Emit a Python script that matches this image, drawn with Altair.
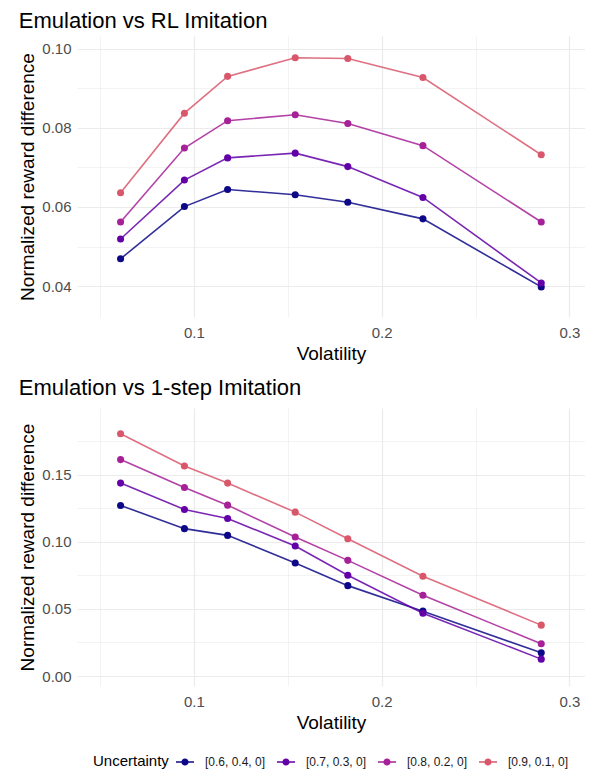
import altair as alt
import pandas as pd

# ---- data ----
volatility = [0.061, 0.095, 0.118, 0.154, 0.182, 0.222, 0.285]
uncertainty_levels = ["[0.6, 0.4, 0]", "[0.7, 0.3, 0]", "[0.8, 0.2, 0]", "[0.9, 0.1, 0]"]

rl_u06 = [0.0469, 0.0601, 0.0644, 0.0631, 0.0612, 0.0570, 0.0398]
rl_u07 = [0.0519, 0.0668, 0.0724, 0.0736, 0.0702, 0.0624, 0.0408]
rl_u08 = [0.0562, 0.0749, 0.0818, 0.0833, 0.0811, 0.0755, 0.0562]
rl_u09 = [0.0636, 0.0837, 0.0930, 0.0977, 0.0975, 0.0927, 0.0732]

os_u06 = [0.1270, 0.1097, 0.1047, 0.0842, 0.0673, 0.0483, 0.0173]
os_u07 = [0.1436, 0.1240, 0.1173, 0.0968, 0.0750, 0.0468, 0.0126]
os_u08 = [0.1611, 0.1403, 0.1272, 0.1035, 0.0861, 0.0601, 0.0240]
os_u09 = [0.1804, 0.1564, 0.1436, 0.1220, 0.1022, 0.0743, 0.0379]

colors = ["#0D0887", "#6300A7", "#A62098", "#D8576B"]

FONT = "Liberation Sans"


def make_df(series):
    rows = []
    for lvl, vals in zip(uncertainty_levels, series):
        for x, y in zip(volatility, vals):
            rows.append({"Volatility": x, "Uncertainty": lvl, "Value": y})
    return pd.DataFrame(rows)


df_rl = make_df([rl_u06, rl_u07, rl_u08, rl_u09])
df_os = make_df([os_u06, os_u07, os_u08, os_u09])

legend_symbol = (
    "M-1,-0.09L1,-0.09L1,0.09L-1,0.09Z "
    "M-0.4,0A0.4,0.4 0 1,1 0.4,0A0.4,0.4 0 1,1 -0.4,0Z"
)

color_scale = alt.Scale(domain=uncertainty_levels, range=colors)
# lines: same colours; domain taken from the data (same sorted order)
stroke_scale = alt.Scale(range=colors)

legend = alt.Legend(
    orient="none",
    legendX=16,
    legendY=717,
    direction="horizontal",
    titleOrient="left",
    title="Uncertainty",
    symbolType=legend_symbol,
    symbolSize=324,
    symbolStrokeWidth=0,
    symbolOpacity=1,
    labelFontSize=12,
    labelFont=FONT,
    labelColor="#1A1A1A",
    titleFontSize=15,
    titleFont=FONT,
    titleFontWeight="normal",
    titleColor="#000000",
    titlePadding=7,
    labelOffset=11,
    columnPadding=11,
)

x_axis = alt.Axis(
    values=[0.05, 0.1, 0.15, 0.2, 0.25, 0.3],
    labelExpr="round(datum.value*100) % 10 == 0 ? format(datum.value, '.1f') : ''",
    gridWidth={"condition": {"test": "round(datum.value*100) % 10 == 0", "value": 1.2}, "value": 0.6},
    labelPadding=8,
    titlePadding=4,
)
x_scale = alt.Scale(domain=[0.0378, 0.3083], nice=False, zero=False)


def panel(df, title, y_values, y_major_test, y_domain, height, title_offset):
    y_axis = alt.Axis(
        values=y_values,
        labelExpr=f"{y_major_test} ? format(datum.value, '.2f') : ''",
        gridWidth={"condition": {"test": y_major_test, "value": 1.2}, "value": 0.6},
        labelPadding=6,
        titlePadding=4,
    )
    x = alt.X("Volatility:Q", title="Volatility", scale=x_scale, axis=x_axis)
    y = alt.Y("Value:Q", title="Normalized reward difference",
              scale=alt.Scale(domain=y_domain, nice=False, zero=False), axis=y_axis)
    base = alt.Chart(df)
    lines = base.mark_line(strokeWidth=1.6, opacity=0.85).encode(
        x=x, y=y,
        stroke=alt.Stroke("Uncertainty:N", scale=stroke_scale, legend=None),
        detail="Uncertainty:N",
    )
    points = base.mark_point(filled=True, size=50, opacity=1).encode(
        x=x, y=y,
        color=alt.Color("Uncertainty:N", scale=color_scale, legend=legend),
    )
    return alt.layer(lines, points).properties(
        width=508,
        height=height,
        title=alt.TitleParams(
            text=title, anchor="start", fontSize=22, font=FONT,
            fontWeight="normal", color="#000000", offset=title_offset,
            baseline="alphabetic",
        ),
    )


top = panel(
    df_rl, "Emulation vs RL Imitation",
    [0.04, 0.05, 0.06, 0.07, 0.08, 0.09, 0.10],
    "round(datum.value*100) % 2 == 0",
    [0.0322, 0.1032], 281, -14,
)
bottom = panel(
    df_os, "Emulation vs 1-step Imitation",
    [0.0, 0.025, 0.05, 0.075, 0.1, 0.125, 0.15, 0.175],
    "round(datum.value*1000) % 50 == 0",
    [-0.0074, 0.1995], 278, -9,
)

chart = alt.vconcat(top, bottom, spacing=14).properties(
    padding={"left": 10, "top": 2, "right": 0, "bottom": 0},
).configure_view(stroke=None).configure_axis(
    domain=False,
    ticks=False,
    gridColor="#EBEBEB",
    labelFont=FONT,
    labelFontSize=15,
    labelColor="#4D4D4D",
    titleFont=FONT,
    titleFontSize=19,
    titleFontWeight="normal",
    titleColor="#000000",
)

chart.save("out.html", embed_options={"renderer": "svg", "actions": False})
